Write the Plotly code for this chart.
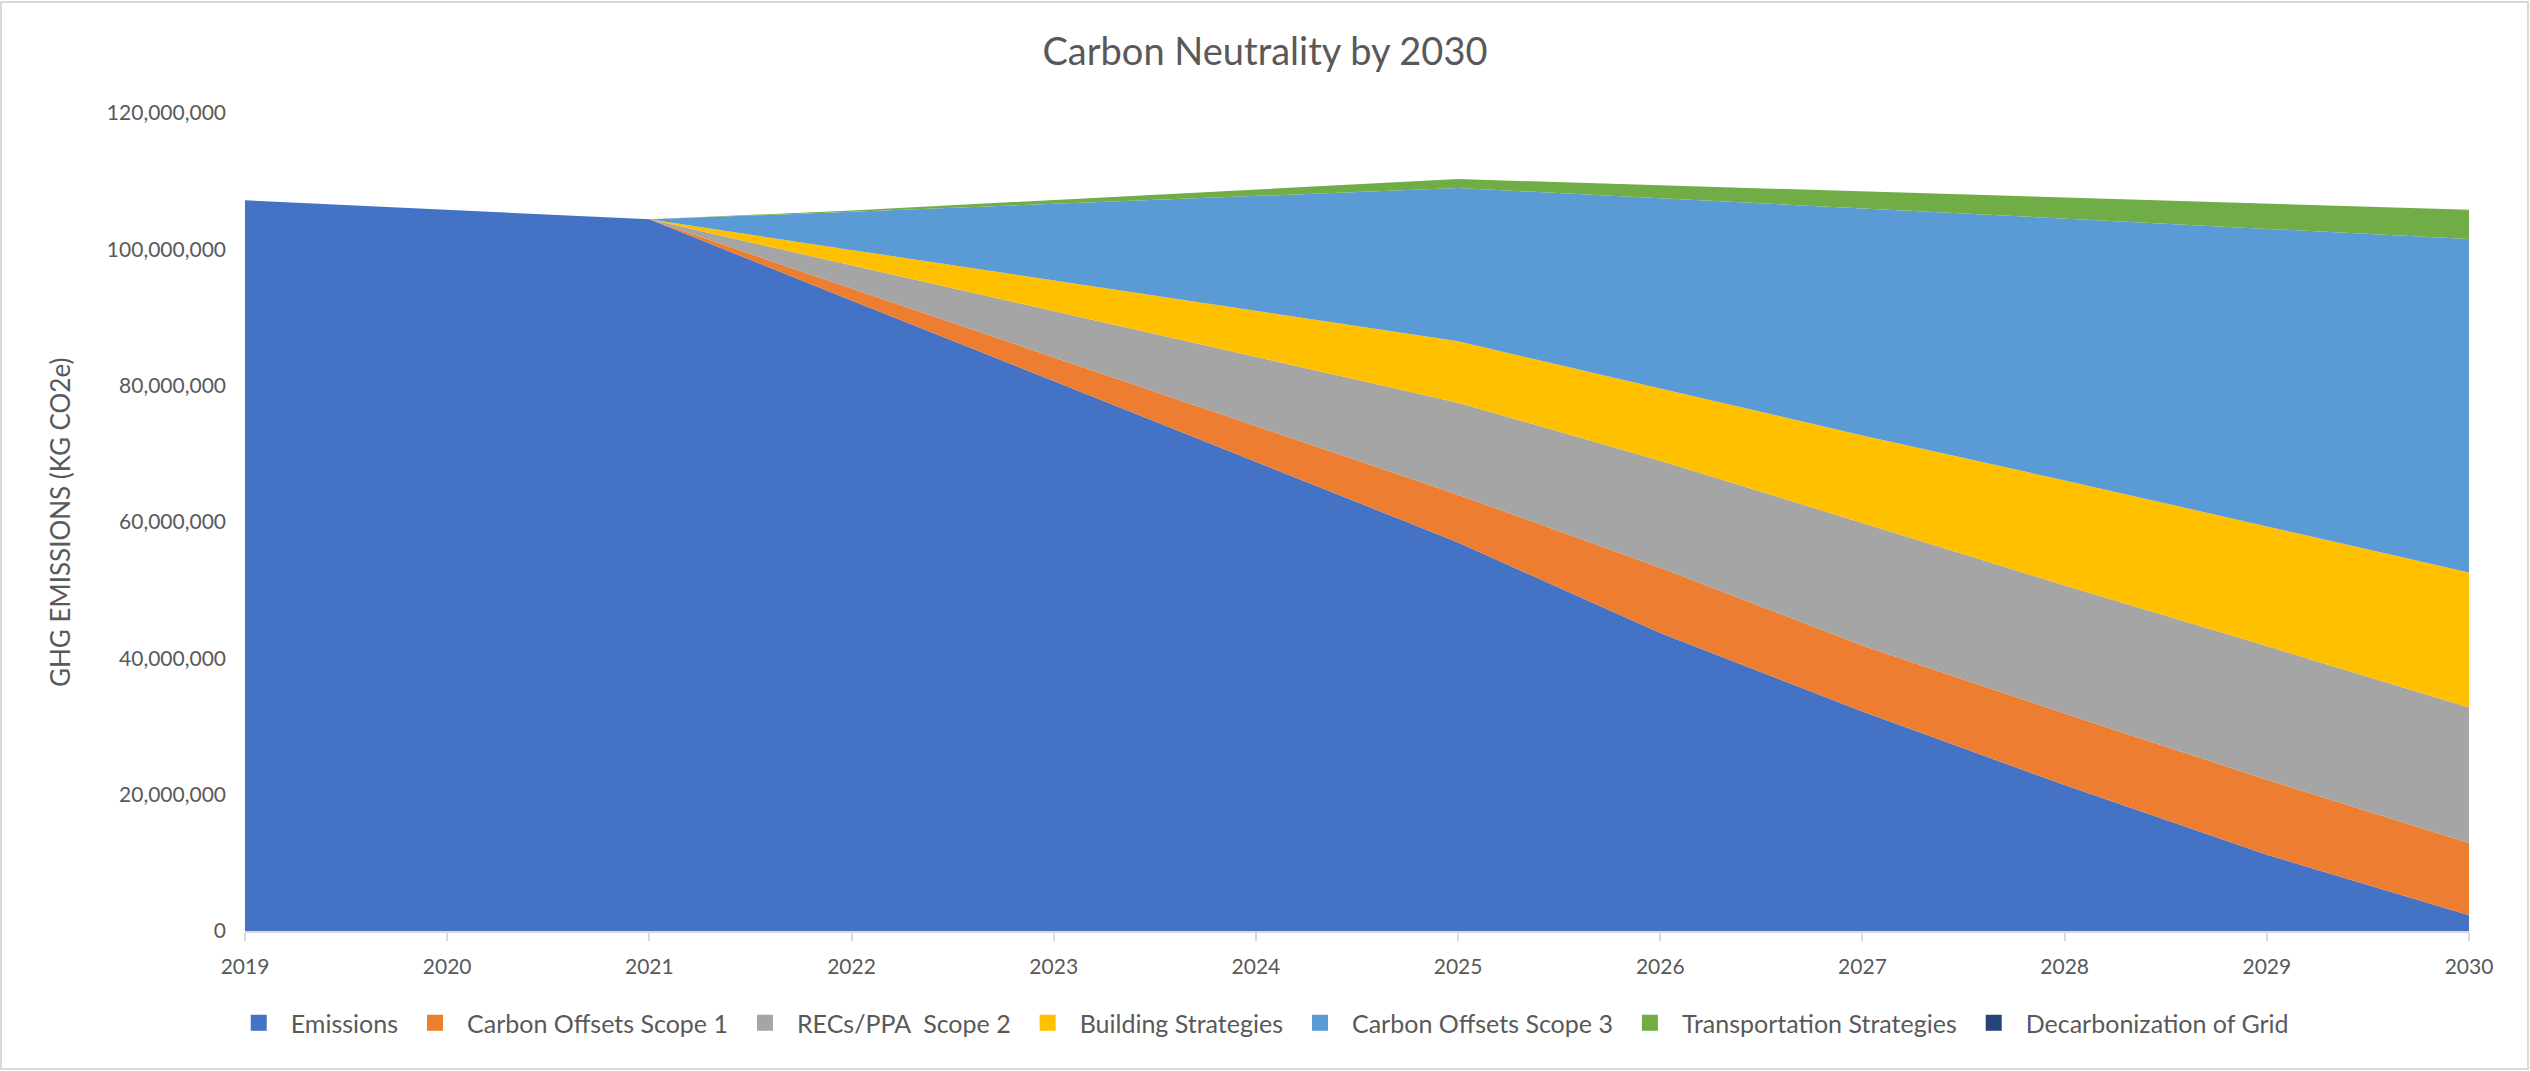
import plotly.graph_objects as go

# Years on the category axis
years = [2019, 2020, 2021, 2022, 2023, 2024, 2025, 2026, 2027, 2028, 2029, 2030]

# GHG emissions and reduction wedges (kg CO2e), stacked bottom to top
emissions = [107_200_000, 105_800_000, 104_400_000, 92_500_000, 80_700_000, 68_900_000,
             57_000_000, 43_700_000, 32_200_000, 21_400_000, 11_200_000, 2_300_000]
carbon_offsets_scope1 = [0, 0, 0, 1_750_000, 3_500_000, 5_250_000,
                         7_000_000, 9_600_000, 9_700_000, 10_500_000, 11_000_000, 10_600_000]
recs_ppa_scope2 = [0, 0, 0, 3_400_000, 6_750_000, 10_100_000,
                   13_500_000, 15_700_000, 18_000_000, 18_800_000, 19_600_000, 19_900_000]
building_strategies = [0, 0, 0, 2_250_000, 4_500_000, 6_750_000,
                       9_000_000, 10_600_000, 12_800_000, 15_400_000, 17_500_000, 19_800_000]
carbon_offsets_scope3 = [0, 0, 0, 5_600_000, 11_250_000, 16_850_000,
                         22_500_000, 27_900_000, 33_300_000, 38_400_000, 43_700_000, 48_900_000]
transportation_strategies = [0, 0, 0, 200_000, 550_000, 900_000,
                             1_300_000, 1_900_000, 2_500_000, 3_100_000, 3_700_000, 4_300_000]
decarbonization_of_grid = [0] * 12

series_names = ["Emissions", "Carbon Offsets Scope 1", "RECs/PPA\u00a0 Scope 2", "Building Strategies",
                "Carbon Offsets Scope 3", "Transportation Strategies", "Decarbonization of Grid"]
series_values = [emissions, carbon_offsets_scope1, recs_ppa_scope2, building_strategies,
                 carbon_offsets_scope3, transportation_strategies, decarbonization_of_grid]
series_colors = ["#4472C4", "#ED7D31", "#A5A5A5", "#FFC000", "#5B9BD5", "#70AD47", "#264478"]

y_ticks = [0, 20_000_000, 40_000_000, 60_000_000, 80_000_000, 100_000_000, 120_000_000]

FONT = "Lato, 'Open Sans', sans-serif"
TEXT = "#595959"
GRID = "#D9D9D9"

fig = go.Figure()

# Stacked areas
for name, vals, color in zip(series_names, series_values, series_colors):
    fig.add_trace(go.Scatter(
        x=years, y=vals, name=name, stackgroup="ghg", mode="lines",
        line=dict(width=0, color=color), fillcolor=color, showlegend=False,
    ))

# Square legend keys
for name, color in zip(series_names, series_colors):
    fig.add_trace(go.Scatter(
        x=[None], y=[None], name=name, mode="markers",
        marker=dict(symbol="square", size=16, color=color), showlegend=True,
    ))

fig.update_layout(
    width=2530, height=1071,
    margin=dict(l=245, r=61, t=113, b=140),
    paper_bgcolor="white", plot_bgcolor="white",
    font=dict(family=FONT, color=TEXT, size=21),
    title=dict(text="Carbon Neutrality by 2030", x=0.5, xanchor="center",
               y=1 - 52 / 1071, yanchor="middle",
               font=dict(family=FONT, size=38, color=TEXT)),
    legend=dict(orientation="h", x=0.4565, xanchor="center", y=-0.1125, yanchor="middle",
                font=dict(family=FONT, size=25, color=TEXT), itemwidth=54,
                traceorder="normal", bgcolor="rgba(0,0,0,0)"),
    showlegend=True,
)

fig.update_xaxes(
    range=[2019, 2030], tickmode="array", tickvals=years, ticktext=[str(y) for y in years],
    showgrid=False, zeroline=False, showline=True, linecolor=GRID, linewidth=2,
    ticks="outside", ticklen=8, tickwidth=2, tickcolor=GRID, ticklabelstandoff=8,
    tickfont=dict(family=FONT, size=21, color=TEXT),
)
fig.update_yaxes(
    range=[0, 120_000_000], tickmode="array", tickvals=y_ticks, tickformat=",d",
    showgrid=True, gridcolor=GRID, gridwidth=2, zeroline=False, showline=False,
    ticks="", ticklabelstandoff=18,
    tickfont=dict(family=FONT, size=21, color=TEXT),
)

# Vertical axis title
fig.add_annotation(
    text="GHG EMISSIONS (KG CO2e)", textangle=-90, xref="paper", yref="paper",
    x=(60 - 245) / 2224, y=0.5, xanchor="center", yanchor="middle", showarrow=False,
    font=dict(family=FONT, size=26, color=TEXT),
)

# Chart frame
fig.add_shape(
    type="rect", xref="paper", yref="paper", layer="below",
    x0=-244 / 2224, x1=(2530 - 245 - 2) / 2224, y0=-138 / 818, y1=1 + 111 / 818,
    line=dict(color=GRID, width=2), fillcolor="rgba(0,0,0,0)",
)

fig.write_html("out.html")
